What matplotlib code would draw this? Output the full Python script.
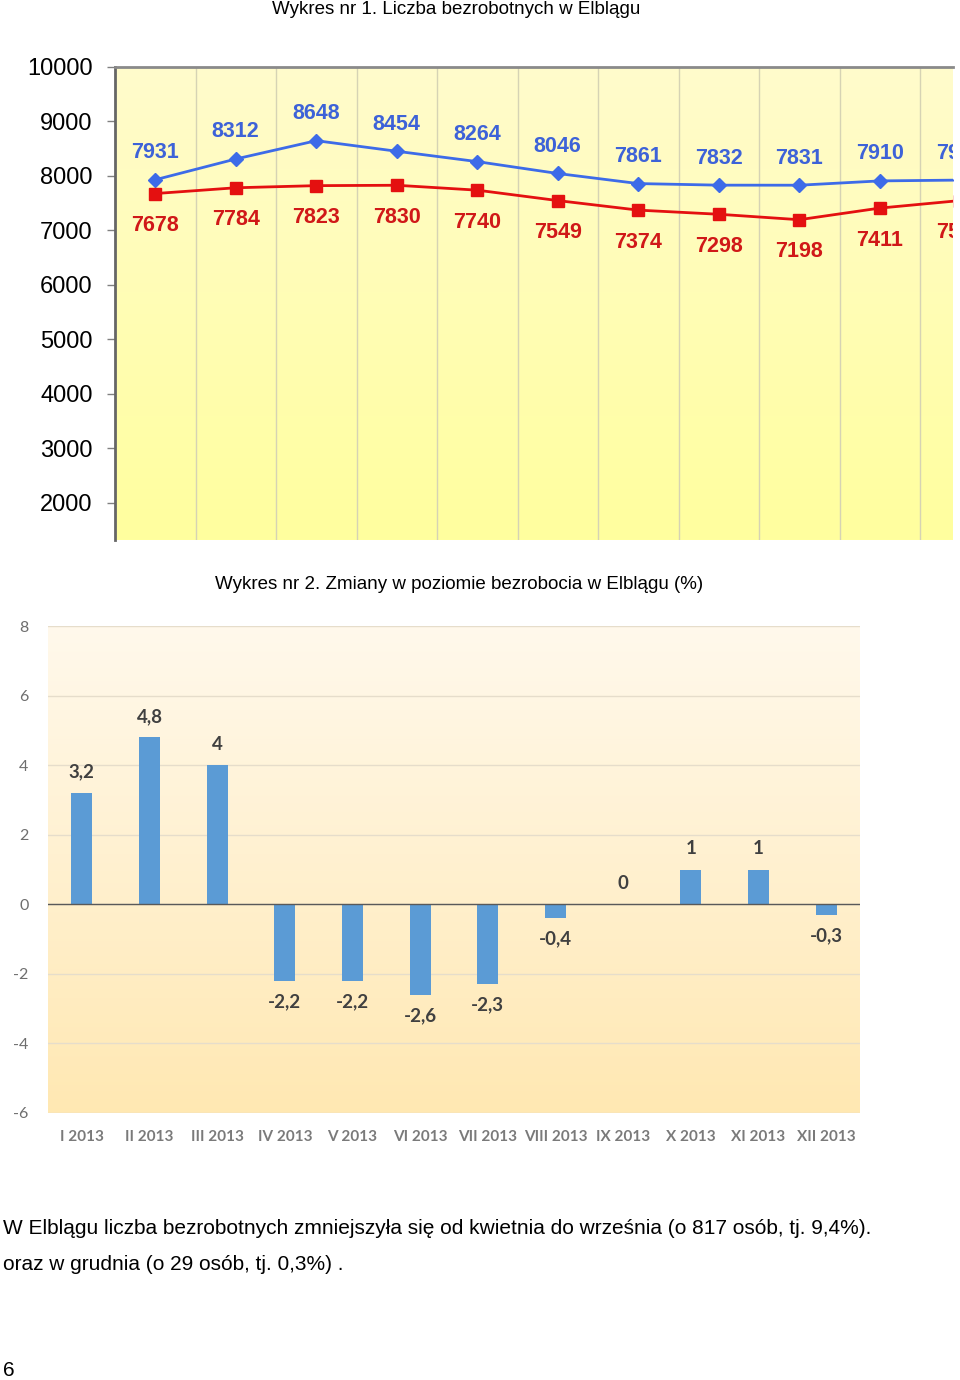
import numpy as np
import matplotlib
matplotlib.use("Agg")
import matplotlib.pyplot as plt

#Data
MONTHS = ['I 2013', 'II 2013', 'III 2013', 'IV 2013', 'V 2013', 'VI 2013',
          'VII 2013', 'VIII 2013', 'IX 2013', 'X 2013', 'XI 2013', 'XII 2013']
#Chart 1, last point is cut off by the page edge (estimated)
UNEMPLOYED_BLUE = [7931, 8312, 8648, 8454, 8264, 8046, 7861, 7832, 7831, 7910, 7925]
UNEMPLOYED_RED = [7678, 7784, 7823, 7830, 7740, 7549, 7374, 7298, 7198, 7411, 7550]
Y1_TICKS = [2000, 3000, 4000, 5000, 6000, 7000, 8000, 9000, 10000]
#Chart 2, percent change month to month
CHANGE_PCT = [3.2, 4.8, 4.0, -2.2, -2.2, -2.6, -2.3, -0.4, 0.0, 1.0, 1.0, -0.3]
Y2_TICKS = [-6, -4, -2, 0, 2, 4, 6, 8]

TITLE_1 = "Wykres nr 1. Liczba bezrobotnych w Elblągu"
TITLE_2 = "Wykres nr 2. Zmiany w poziomie bezrobocia w Elblągu (%)"
PARAGRAPH = ["W Elblągu liczba bezrobotnych zmniejszyła się od kwietnia do września (o 817 osób, tj. 9,4%).",
             "oraz w grudnia (o 29 osób, tj. 0,3%) ."]

W, H = 960, 1380
ARIAL = 'Liberation Sans'
CALIBRI = 'Lato'


#Convert pixel box on the page to a figure axes rect
def px_rect(x0, y0, x1, y1):
  return [x0 / W, 1 - y1 / H, (x1 - x0) / W, (y1 - y0) / H]


#Vertical colour gradient filling the whole axes
def gradient(ax, top, bottom):
  t = np.linspace(0, 1, 256)[:, None]
  top = np.array(top)
  bottom = np.array(bottom)
  img = top[None, None, :] * (1 - t[:, :, None]) + bottom[None, None, :] * t[:, :, None]
  ax.imshow(img, extent=[0, 1, 0, 1], transform=ax.transAxes,
    aspect='auto', zorder=0, interpolation='bilinear')


def fmt_pl(v):
  return f"{v:g}".replace('.', ',')


fig = plt.figure(figsize=(W / 100, H / 100), dpi=100)

#----- Chart 1: line chart -----
fig.text(456 / W, 1 - 14 / H, TITLE_1, ha='center', va='baseline',
  fontsize=13.5, family=ARIAL)

ax1 = fig.add_axes(px_rect(115, 67, 953, 540))
gradient(ax1, (1.0, 0.985, 0.80), (1.0, 1.0, 0.62))
x = np.arange(len(UNEMPLOYED_BLUE))
ax1.plot(x, UNEMPLOYED_BLUE, color='#3D6BE8', lw=2, marker='D', ms=7,
  zorder=3)
ax1.plot(x, UNEMPLOYED_RED, color='#E41010', lw=2, marker='s', ms=9,
  zorder=3)
#Labels of the last point are cut by the page edge, as in the original
for i, v in enumerate(UNEMPLOYED_BLUE):
  ax1.annotate(str(v), (i, v), xytext=(0, 19.5), textcoords='offset points',
    ha='center', va='center', fontsize=15.5, fontweight='bold',
    color='#3D62D8', family=ARIAL, annotation_clip=False, clip_on=True)
for i, v in enumerate(UNEMPLOYED_RED):
  ax1.annotate(str(v), (i, v), xytext=(0, -23), textcoords='offset points',
    ha='center', va='center', fontsize=15.5, fontweight='bold',
    color='#D01818', family=ARIAL, annotation_clip=False, clip_on=True)

ax1.set_yticks(Y1_TICKS)
ax1.set_yticklabels([str(t) for t in Y1_TICKS], family=ARIAL, fontsize=17)
ax1.tick_params(axis='y', length=6, width=1, color='#808080', pad=10)
ax1.set_xticks(np.arange(0.5, 12, 1))
ax1.tick_params(axis='x', length=0, labelbottom=False)
#Only about ten and a half categories fit on the page
ax1.set_xlim(-0.5, -0.5 + 838 / 80.5)
ax1.set_ylim(1321, 10000)
ax1.grid(axis='x', color='#D6D3B4', lw=1, zorder=1)
ax1.set_axisbelow(True)
for s in ['right', 'bottom']:
  ax1.spines[s].set_visible(False)
ax1.spines['left'].set_color('#666666')
ax1.spines['left'].set_linewidth(2)
ax1.spines['top'].set_color('#8A8A8A')
ax1.spines['top'].set_linewidth(2)

#----- Chart 2: bar chart -----
fig.text(459 / W, 1 - 589 / H, TITLE_2, ha='center', va='baseline',
  fontsize=13.5, family=ARIAL)

ax2 = fig.add_axes(px_rect(48, 626, 860, 1113))
gradient(ax2, (1.0, 0.976, 0.925), (1.0, 0.91, 0.70))
xb = np.arange(len(CHANGE_PCT))
ax2.bar(xb, CHANGE_PCT, width=0.31, color='#5B9BD5', zorder=3)
for i, v in enumerate(CHANGE_PCT):
  off = 15 if v >= 0 else -15
  ax2.annotate(fmt_pl(v), (i, v), xytext=(0, off), textcoords='offset points',
    ha='center', va='center', fontsize=13.5, fontweight='bold',
    color='#404040', family=CALIBRI)
ax2.axhline(0, color='#595959', lw=1, zorder=4)
ax2.set_xticks(xb)
ax2.set_xticklabels(MONTHS, family=CALIBRI, fontsize=11, fontweight='bold',
  color='#7A7A7A')
ax2.set_yticks(Y2_TICKS)
ax2.set_yticklabels([str(t) for t in Y2_TICKS], family=CALIBRI,
  fontsize=11.5, color='#6E6E6E')
ax2.set_xlim(-0.5, len(CHANGE_PCT) - 0.5)
ax2.set_ylim(-6, 8)
ax2.tick_params(axis='both', length=0)
ax2.tick_params(axis='x', pad=12)
ax2.tick_params(axis='y', pad=14)
ax2.grid(axis='y', color='#E6DDCB', lw=1, zorder=1)
ax2.set_axisbelow(True)
for s in ax2.spines.values():
  s.set_visible(False)

#----- Text under the charts -----
fig.text(3 / W, 1 - 1228 / H, PARAGRAPH[0], ha='left', va='center',
  fontsize=15, family=ARIAL)
fig.text(3 / W, 1 - 1264 / H, PARAGRAPH[1], ha='left', va='center',
  fontsize=15, family=ARIAL)
fig.text(3 / W, 1 - 1371 / H, "6", ha='left', va='center',
  fontsize=15, family=ARIAL)

fig.savefig("out.png", dpi=100)
